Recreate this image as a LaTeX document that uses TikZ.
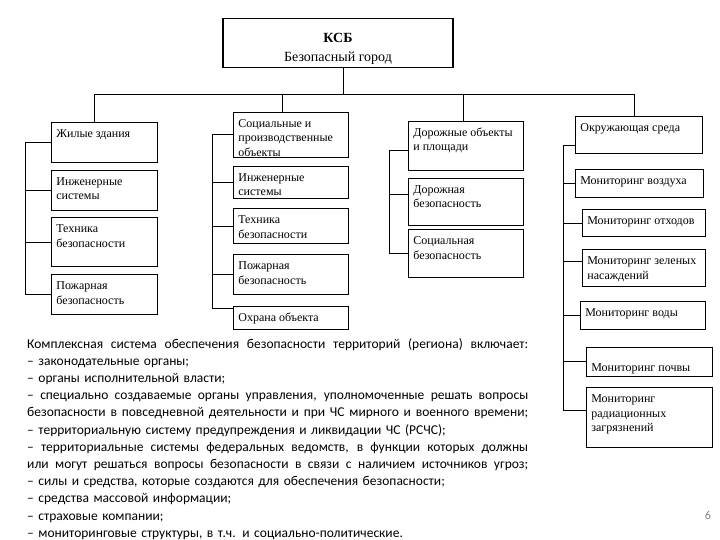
\documentclass[tikz,border=0pt]{standalone}
\usepackage{fontspec}
\setmainfont{Liberation Serif}
\newfontfamily\bodyfont{Carlito}
\usetikzlibrary{positioning}

% text inside a box: width, height, lines; optional extra top gap
\newcommand{\boxtext}[4][0pt]{\parbox[c][#3][t]{#2}{\vspace*{\dimexpr5pt+#1\relax}\raggedright\strut #4}}
\newcommand{\fullline}[1]{\leavevmode\hbox to 501pt{\spaceskip=0.25em plus 1fil\relax #1}}

\begin{document}
\begin{tikzpicture}[x=1pt, y=-1pt]
		% Define styles
		\tikzset{
			box/.style={draw, line width=0.7pt, inner xsep=5pt, inner ysep=0pt, anchor=north west,
				font=\fontsize{12}{14.5}\selectfont},
			head/.style={draw, line width=1.4pt, minimum width=230pt, minimum height=46pt, align=center,
				font=\fontsize{14}{19}\selectfont},
			link/.style={line width=0.7pt}
		}
		\useasboundingbox (0,0) rectangle (720,540);
		
		% Top
		\node[head] (ksb) at (338,43) {\rule{0pt}{20pt}\textbf{КСБ}\\Безопасный город};
		\coordinate (bus) at (0,94);
		
		% Column 1
		\node[box] (zh) at (51,122) {\boxtext{96pt}{40pt}{Жилые здания}};
		\node[box, below=7pt of zh] (ing1) {\boxtext{96pt}{40pt}{Инженерные\\системы}};
		\node[box, below=7pt of ing1] (teh1) {\boxtext{96pt}{49pt}{Техника\\безопасности}};
		\node[box, below=7pt of teh1] (pozh1) {\boxtext{96pt}{40pt}{Пожарная\\безопасность}};
		
		% Column 2
		\node[box] (soc) at (233,112) {\boxtext{105pt}{45pt}{Социальные и\\производственные\\объекты}};
		\node[box, below=8pt of soc] (ing2) {\boxtext{105pt}{32pt}{Инженерные\\системы}};
		\node[box, below=10pt of ing2] (teh2) {\boxtext{105pt}{35pt}{Техника\\безопасности}};
		\node[box, below=10pt of teh2] (pozh2) {\boxtext{105pt}{40pt}{Пожарная\\безопасность}};
		\node[box, below=11pt of pozh2] (ohr) {\boxtext{105pt}{23pt}{Охрана объекта}};
		
		% Column 3
		\node[box] (dor) at (408,121) {\boxtext{105pt}{49pt}{Дорожные объекты\\и площади}};
		\node[box, below=7pt of dor] (dorb) {\boxtext{105pt}{47pt}{Дорожная\\безопасность}};
		\node[box, below=4pt of dorb] (socb) {\boxtext{105pt}{48pt}{Социальная\\безопасность}};
		
		% Column 4
		\node[box] (okr) at (575,116) {\boxtext{117pt}{37pt}{Окружающая среда}};
		\node[box, below=15pt of okr.south west, anchor=north west] (mvoz) {\boxtext{118pt}{28pt}{Мониторинг воздуха}};
		\node[box, below=12pt of mvoz.south west, anchor=north west, xshift=7pt] (moth) {\boxtext{113pt}{27pt}{Мониторинг отходов}};
		\node[box, below=12pt of moth.south west, anchor=north west] (mzel) {\boxtext{113pt}{37pt}{Мониторинг зеленых\\насаждений}};
		\node[box, below=14pt of mzel.south west, anchor=north west, xshift=-2pt] (mvod) {\boxtext{115pt}{28pt}{Мониторинг воды}};
		\node[box, below=17pt of mvod.south west, anchor=north west, xshift=6pt] (mpoch) {\boxtext[9pt]{116pt}{29pt}{Мониторинг почвы}};
		\node[box, below=11pt of mpoch.south west, anchor=north west] (mrad) {\boxtext{116pt}{60pt}{Мониторинг\\радиационных\\загрязнений}};
		
		% Bus from the top box
		\draw[link] ([xshift=5pt]ksb.south) -- ([xshift=5pt]ksb.south |- bus);
		\draw[link] ([xshift=-10pt]zh.north) |- ([xshift=-5pt]okr.north |- bus) -- ([xshift=-5pt]okr.north);
		\draw[link] ([xshift=-9pt]soc.north) -- ([xshift=-9pt]soc.north |- bus);
		\draw[link] ([xshift=-3pt]dor.north) -- ([xshift=-3pt]dor.north |- bus);
		
		% Spines
		\coordinate (sp1) at (25,0);
		\coordinate (sp2) at (212,0);
		\coordinate (sp3) at (389,0);
		\coordinate (sp4) at (563,0);
		
		\draw[link] (zh.west) -| (sp1 |- pozh1.west) -- (pozh1.west);
		\foreach \b in {ing1,teh1}
			\draw[link] (\b.west) -- (\b.west -| sp1);
		
		\draw[link] (soc.west) -| ([yshift=9pt]sp2 |- ohr.west) -- ([yshift=9pt]ohr.west);
		\foreach \b in {ing2,teh2,pozh2}
			\draw[link] (\b.west) -- (\b.west -| sp2);
		
		\draw[link] ([yshift=-5pt]dor.west) -| (sp3 |- socb.west) -- (socb.west);
		\draw[link] ([yshift=7pt]dorb.west) -- ([yshift=7pt]dorb.west -| sp3);
		
		\draw[link] ([yshift=-11pt]okr.west) -| ([yshift=7pt]sp4 |- mrad.west) -- ([yshift=7pt]mrad.west);
		\foreach \b in {mvoz,moth,mvod,mpoch}
			\draw[link] (\b.west) -- (\b.west -| sp4);
		\draw[link] ([yshift=7pt]mzel.west) -- ([yshift=7pt]mzel.west -| sp4);
		
		% Text block
		\node[anchor=north west, inner sep=0pt, text width=501pt, align=left,
			font=\bodyfont\fontsize{13.5}{17.2}\selectfont] (txt) at (27,338) {%
			\fullline{Комплексная система обеспечения безопасности территорий (региона) включает:}\\
			– законодательные органы;\\
			– органы исполнительной власти;\\
			\fullline{– специально создаваемые органы управления, уполномоченные решать вопросы}\\
			\fullline{безопасности в повседневной деятельности и при ЧС мирного и военного времени;}\\
			– территориальную систему предупреждения и ликвидации ЧС (РСЧС);\\
			\fullline{– территориальные системы федеральных ведомств, в функции которых должны}\\
			\fullline{или могут решаться вопросы безопасности в связи с наличием источников угроз;}\\
			– силы и средства, которые создаются для обеспечения безопасности;\\
			– средства массовой информации;\\
			– страховые компании;\\
			– мониторинговые структуры, в т.ч. и социально-политические.};
		
		\node[font=\bodyfont\fontsize{12}{12}\selectfont, text=gray] (pg) at (708,515) {6};
	\end{tikzpicture}
\end{document}
